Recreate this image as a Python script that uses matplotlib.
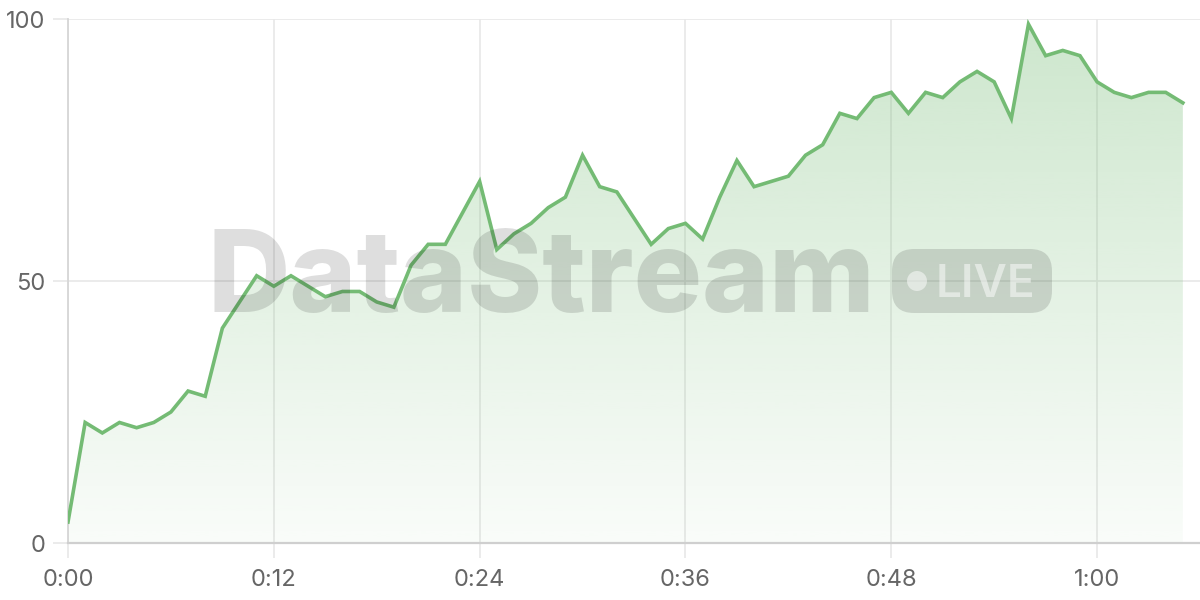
import numpy as np
import matplotlib
matplotlib.use("Agg")
import matplotlib.pyplot as plt
from matplotlib.patches import FancyBboxPatch, Ellipse, Polygon
from matplotlib.transforms import IdentityTransform
from matplotlib.ticker import FixedLocator

# values, one per tick (0:00 .. 1:05)
values = [4, 23, 21, 23, 22, 23, 25, 29, 28, 41,
          46, 51, 49, 51, 49, 47, 48, 48, 46, 45,
          53, 57, 57, 63, 69, 56, 59, 61, 64, 66,
          74, 68, 67, 62, 57, 60, 61, 58, 66, 73,
          68, 69, 70, 74, 76, 82, 81, 85, 86, 82,
          86, 85, 88, 90, 88, 81, 99, 93, 94, 93,
          88, 86, 85, 86, 86, 84]
x_ticks = [0, 12, 24, 36, 48, 60]
x_tick_labels = ["0:00", "0:12", "0:24", "0:36", "0:48", "1:00"]
y_ticks = [0, 50, 100]

LINE = "#74bb74"
GRID = "#e8e8e8"
TEXT = "#666666"
H = 600  # figure height in px, for pixel placed watermark

plt.rcParams['font.family'] = ['Inter', 'DejaVu Sans']

fig = plt.figure(figsize=(12, 6), dpi=100)
ax = fig.add_axes([68 / 1200, 57 / 600, 1 - 68 / 1200, 524 / 600])

x = np.arange(len(values))
y = np.array(values, dtype=float)

ax.set_xlim(0, 66)
ax.set_ylim(0, 100)

# gradient fill under the line
grad = np.linspace(0.04, 0.36, 256)
rgba = np.zeros((256, 1, 4))
rgba[..., :3] = matplotlib.colors.to_rgb(LINE)
rgba[:, 0, 3] = grad
img = ax.imshow(rgba, extent=[0, 66, 0, 100], origin="lower", aspect="auto", zorder=1)
poly = Polygon(np.column_stack([np.r_[x[0], x, x[-1]], np.r_[0, y, 0]]),
               closed=True, facecolor="none", edgecolor="none")
ax.add_patch(poly)
img.set_clip_path(poly)

ax.plot(x, y, color=LINE, lw=2.6, solid_joinstyle="miter", zorder=4)

# grid and axes
ax.xaxis.set_major_locator(FixedLocator(x_ticks))
ax.set_xticklabels(x_tick_labels)
ax.yaxis.set_major_locator(FixedLocator(y_ticks))
ax.grid(True, color=GRID, lw=1.2, zorder=0)
ax.set_axisbelow(True)
for s in ["top", "right"]:
    ax.spines[s].set_visible(False)
ax.spines["left"].set_color("#d6d6d6")
ax.spines["left"].set_linewidth(1.3)
ax.spines["bottom"].set_color("#cfcfcf")
ax.spines["bottom"].set_linewidth(1.6)
ax.tick_params(axis="both", length=11, width=1.2, color=GRID, labelcolor=TEXT,
               labelsize=17)
ax.tick_params(axis="x", pad=8)
ax.tick_params(axis="y", pad=5)

# watermark
fig.text(208 / 1200, 1 - 312 / 600, "DataStream", fontsize=82, va="baseline",
         ha="left", color="black", alpha=0.13, fontweight="heavy", zorder=3)
pill = FancyBboxPatch((892, H - 313), 160, 64,
                      boxstyle="round,pad=0,rounding_size=22",
                      transform=IdentityTransform(), facecolor="black", alpha=0.13,
                      edgecolor="none", zorder=3)
fig.add_artist(pill)
fig.add_artist(Ellipse((917, H - 281), 20, 20, transform=IdentityTransform(),
                       facecolor="white", alpha=0.5, edgecolor="none", zorder=3))
fig.text(936 / 1200, 1 - 297 / 600, "LIVE", fontsize=33, color="white", alpha=0.5,
         fontweight="semibold", va="baseline", ha="left", zorder=3)

fig.savefig("out.png", dpi=100)
